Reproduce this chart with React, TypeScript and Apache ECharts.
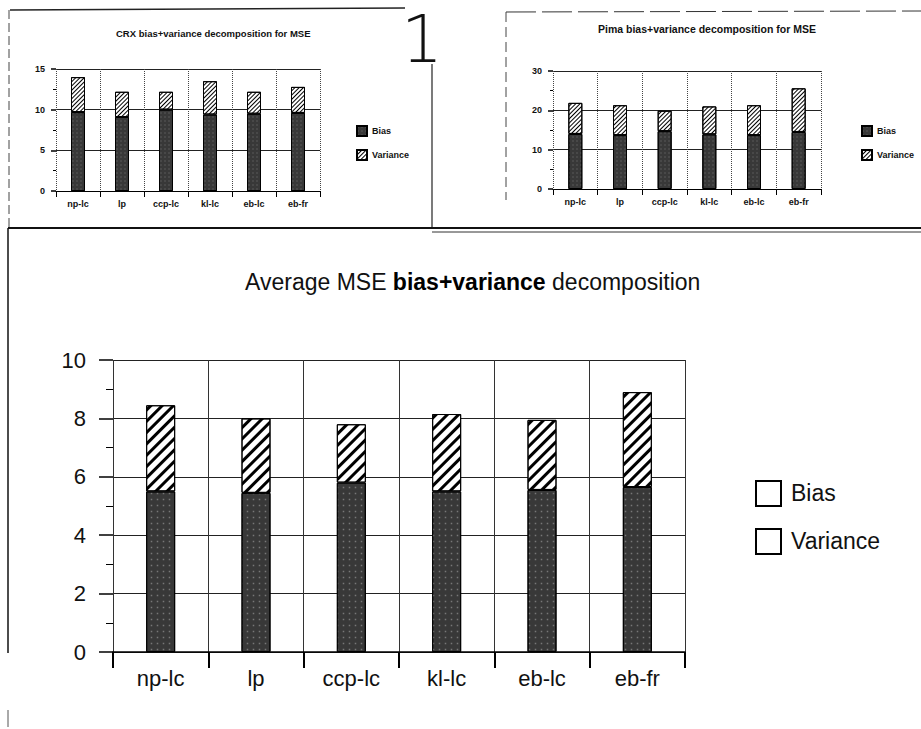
import React, { useEffect, useRef } from "react";
import * as echarts from "echarts";

const categories = ["np-lc", "lp", "ccp-lc", "kl-lc", "eb-lc", "eb-fr"];
const crxBias = [9.7, 9.1, 10.0, 9.4, 9.5, 9.6];
const crxVariance = [4.3, 3.1, 2.2, 4.1, 2.7, 3.2];
const pimaBias = [14.0, 13.7, 14.7, 13.9, 13.7, 14.5];
const pimaVariance = [7.9, 7.6, 5.2, 7.1, 7.6, 11.1];
const avgBias = [5.5, 5.45, 5.8, 5.5, 5.55, 5.65];
const avgVariance = [2.95, 2.55, 2.0, 2.65, 2.4, 3.25];
const seriesNames = ["Bias", "Variance"];
const titles = [
  "CRX bias+variance decomposition for MSE",
  "Pima bias+variance decomposition for MSE",
];

const FONT = "'Liberation Sans', Arial, Helvetica, sans-serif";

const stipple = (size: number) => ({
  color: "rgba(170,170,170,0.55)",
  symbol: "rect",
  symbolSize: 0.5,
  dashArrayX: [size, size],
  dashArrayY: [size, size],
  rotation: 0,
});
const hatch = (w: number, gap: number) => ({
  color: "#000",
  symbol: "rect",
  symbolSize: 1,
  dashArrayX: [1, 0],
  dashArrayY: [w, gap],
  rotation: -Math.PI / 4,
});

export default function App() {
  const ref = useRef<HTMLDivElement>(null);
  useEffect(() => {
    if (!ref.current) return;
    const chart = echarts.init(ref.current, undefined, { renderer: "svg" });

    const smallAxisLabel = { fontSize: 9, fontWeight: "bold" as const, fontFamily: FONT, color: "#111" };
    const bigAxisLabel = { fontSize: 22, fontFamily: FONT, color: "#111" };

    const mkX = (gridIndex: number, big: boolean) => ({
      type: "category",
      gridIndex,
      data: categories,
      boundaryGap: true,
      axisLine: { show: true, lineStyle: { color: "#000", width: big ? 1.5 : 1.2 } },
      axisTick: { show: true, length: big ? 16 : 6, lineStyle: { color: "#000", width: big ? 2 : 1 } },
      axisLabel: { ...(big ? bigAxisLabel : smallAxisLabel), margin: big ? 15 : 8, interval: 0 },
      splitLine: { show: true, lineStyle: { color: big ? "#333" : "#444", width: 1, type: big ? "solid" : "dotted" } },
    });
    const mkY = (gridIndex: number, max: number, interval: number, big: boolean) => ({
      type: "value",
      gridIndex,
      min: 0,
      max,
      interval,
      axisLine: { show: false },
      axisTick: { show: true, length: big ? 14 : 5, lineStyle: { color: "#000", width: 1.5 } },
      minorTick: { show: true, splitNumber: 2, length: big ? 7 : 3, lineStyle: { color: "#000", width: 1 } },
      axisLabel: { ...(big ? bigAxisLabel : smallAxisLabel), margin: big ? 27 : 11 },
      splitLine: { show: true, lineStyle: { color: "#222", width: big ? 1.2 : 1 } },
    });

    const barSeries = (
      idx: number,
      bias: number[],
      variance: number[],
      width: number,
      big: boolean
    ) => [
      {
        name: "Bias",
        type: "bar",
        stack: "s" + idx,
        xAxisIndex: idx,
        yAxisIndex: idx,
        barWidth: width,
        data: bias,
        itemStyle: { color: "#383838", borderColor: "#000", borderWidth: 1, decal: stipple(big ? 3 : 2) },
      },
      {
        name: "Variance",
        type: "bar",
        stack: "s" + idx,
        xAxisIndex: idx,
        yAxisIndex: idx,
        barWidth: width,
        data: variance,
        itemStyle: { color: "#fff", borderColor: "#000", borderWidth: 1, decal: big ? hatch(2.5, 4.5) : hatch(1, 2) },
      },
    ];

    const smallLegend = (left: number, top: number) => ({
      data: seriesNames,
      orient: "vertical",
      left,
      top,
      itemWidth: 10,
      itemHeight: 10,
      itemGap: 12,
      selectedMode: false,
      icon: "rect",
      textStyle: { fontSize: 9, fontWeight: "bold", fontFamily: FONT, color: "#111" },
    });

    const option: any = {
      animation: false,
      backgroundColor: "#fff",
      title: {
        text: "{a|Average MSE }{b|bias+variance}{a| decomposition}",
        left: 240,
        top: 265,
        textStyle: {
          rich: {
            a: { fontSize: 23, fontWeight: "normal", fontFamily: FONT, color: "#111" },
            b: { fontSize: 23, fontWeight: "bold", fontFamily: FONT, color: "#000" },
          },
        },
      },
      grid: [
        { left: 56, top: 69, width: 264, height: 122 },
        { left: 553, top: 71, width: 268, height: 118 },
        { left: 113, top: 360, width: 572, height: 292 },
      ],
      xAxis: [mkX(0, false), mkX(1, false), mkX(2, true)],
      yAxis: [mkY(0, 15, 5, false), mkY(1, 30, 10, false), mkY(2, 10, 2, true)],
      legend: [smallLegend(351, 120), smallLegend(856, 120)],
      series: [
        ...barSeries(0, crxBias, crxVariance, 14, false),
        ...barSeries(1, pimaBias, pimaVariance, 14, false),
        ...barSeries(2, avgBias, avgVariance, 29, true),
      ],
      graphic: [
        // panel titles
        { type: "text", left: 116, top: 28, style: { text: titles[0], font: `bold 9.5px ${FONT}`, fill: "#111" } },
        { type: "text", left: 598, top: 23, style: { text: titles[1], font: `bold 10.5px ${FONT}`, fill: "#111" } },
        // big "1"
        { type: "text", left: 401, top: 6, style: { text: "1", font: `200 66px 'DejaVu Sans'`, fill: "#111" } },
        // scan frame lines
        { type: "line", shape: { x1: 10, y1: 10, x2: 405, y2: 8 }, style: { stroke: "#222", lineWidth: 1.3 } },
        { type: "line", shape: { x1: 9, y1: 10, x2: 9, y2: 228 }, style: { stroke: "#444", lineWidth: 1, lineDash: [9, 4] } },
        { type: "line", shape: { x1: 432, y1: 64, x2: 432, y2: 228 }, style: { stroke: "#222", lineWidth: 1.2 } },
        { type: "line", shape: { x1: 506, y1: 12, x2: 921, y2: 11 }, style: { stroke: "#333", lineWidth: 1, lineDash: [30, 6] } },
        { type: "line", shape: { x1: 506, y1: 12, x2: 506, y2: 200 }, style: { stroke: "#444", lineWidth: 1, lineDash: [10, 5] } },
        { type: "line", shape: { x1: 8, y1: 228, x2: 921, y2: 228 }, style: { stroke: "#111", lineWidth: 2 } },
        { type: "line", shape: { x1: 432, y1: 232, x2: 921, y2: 232 }, style: { stroke: "#333", lineWidth: 1 } },
        { type: "line", shape: { x1: 8, y1: 228, x2: 8, y2: 653 }, style: { stroke: "#111", lineWidth: 1.5 } },
        { type: "line", shape: { x1: 8, y1: 710, x2: 8, y2: 727 }, style: { stroke: "#555", lineWidth: 1 } },
        // bottom legend (empty boxes)
        { type: "rect", shape: { x: 756, y: 481, width: 25, height: 25 }, style: { fill: "#fff", stroke: "#000", lineWidth: 2 } },
        { type: "text", left: 791, top: 481, style: { text: seriesNames[0], font: `23px ${FONT}`, fill: "#111" } },
        { type: "rect", shape: { x: 756, y: 529, width: 25, height: 25 }, style: { fill: "#fff", stroke: "#000", lineWidth: 2 } },
        { type: "text", left: 791, top: 529, style: { text: seriesNames[1], font: `23px ${FONT}`, fill: "#111" } },
      ],
    };
    chart.setOption(option);
    return () => chart.dispose();
  }, []);
  return (
    <div
      ref={ref}
      style={{ position: "fixed", left: 0, top: 0, width: 921, height: 729, background: "#fff" }}
    />
  );
}
